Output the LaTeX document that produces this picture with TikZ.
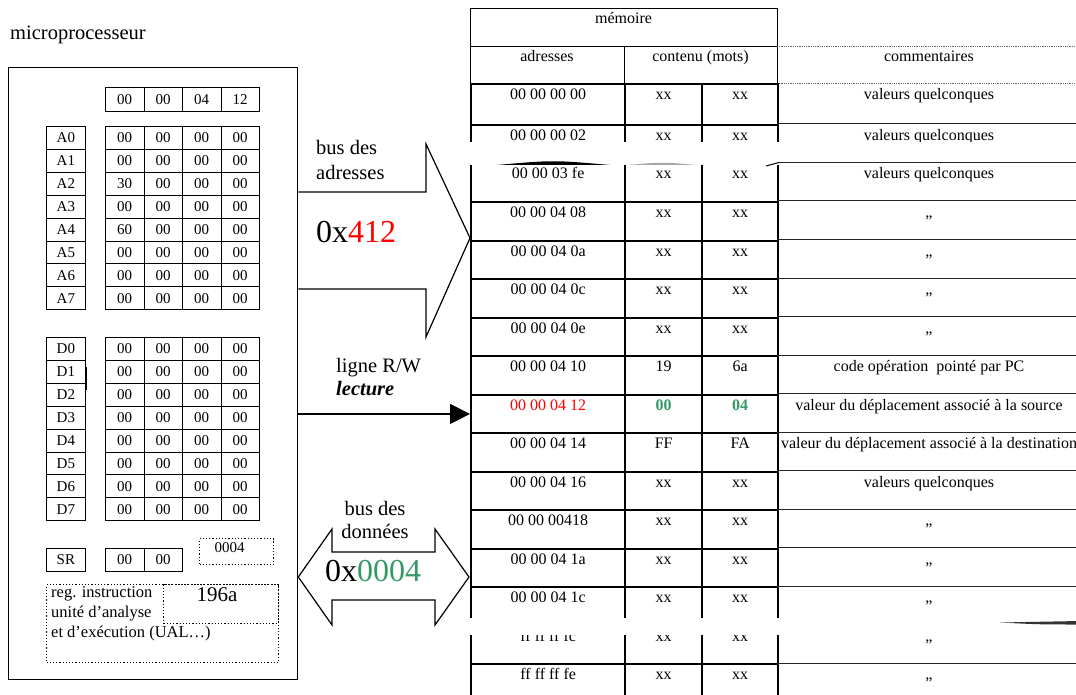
\documentclass[tikz,border=0pt]{standalone}
\usepackage{fontspec}
\setmainfont{Liberation Serif}
\usetikzlibrary{arrows.meta,positioning}
\definecolor{adrred}{RGB}{255,0,0}
\definecolor{datgreen}{RGB}{51,153,102}

\begin{document}
\begin{tikzpicture}[
      x=1pt, y=-1pt,
      font=\fontsize{15}{17}\selectfont,
      reg/.style={draw, line width=0.8pt, minimum width=38.5pt, minimum height=22.9pt, inner sep=0pt, anchor=north west},
      reglab/.style={reg, minimum width=39pt},
      dotbox/.style={draw, line width=1.2pt, dotted, inner sep=0pt, anchor=north west},
      mcell/.style={draw, line width=2.4pt, inner sep=0pt, anchor=north west},
      mhead/.style={draw, line width=0.8pt},
      comline/.style={line width=1pt, black!85},
      mtxt/.style={anchor=base, inner sep=0pt, font=\fontsize{16}{18}\selectfont},
      lbl/.style={anchor=base west, inner sep=0pt, font=\fontsize{20.5}{24}\selectfont},
      big/.style={anchor=base west, inner sep=0pt, font=\fontsize{32}{36}\selectfont},
      bus/.style={line width=1.2pt, line join=miter}
    ]
    \useasboundingbox (0,0) rectangle (1076,695);

    % microprocesseur
    \node[lbl] (cputitle) at (10,40) {microprocesseur};
    \node[draw, line width=1.3pt, minimum width=289pt, minimum height=612pt, inner sep=0pt, anchor=north west] (cpu) at (8,67) {};

    \foreach \v [count=\j from 0] in {00,00,04,12}
      \node[reg, minimum height=24pt] (pc\j) at ({105+38.5*\j},87) {\v};

    \foreach \v [count=\i from 0] in {00,00,30,00,60,00,00,00} {
      \node[reglab] (a\i) at (46,{126+22.9*\i}) {A\i};
      \node[reg] (av\i-0) at (105,{126+22.9*\i}) {\v};
      \foreach \j in {1,2,3}
        \node[reg] (av\i-\j) at ({105+38.5*\j},{126+22.9*\i}) {00};
    }

    \foreach \i in {0,...,7} {
      \node[reglab] (d\i) at (46,{337+22.9*\i}) {D\i};
      \foreach \j in {0,...,3}
        \node[reg] (dv\i-\j) at ({105+38.5*\j},{337+22.9*\i}) {00};
    }
    \draw[line width=1.2pt] (86,367) -- (86,390);

    \node[reglab, minimum height=23pt] (sr) at (46,548) {SR};
    \node[reg, minimum height=23pt] (sr0) at (105,548) {00};
    \node[reg, minimum height=23pt] (sr1) at (143.5,548) {00};
    \node[dotbox, minimum width=74pt, minimum height=26pt, text depth=8pt] (ccr) at (199,538) {0004\kern14pt};

    \node[dotbox, minimum width=232pt, minimum height=78pt] (ual) at (46,584) {};
    \node[dotbox, minimum width=115pt, minimum height=39pt, text depth=19pt, font=\fontsize{21}{24}\selectfont] (ir) at (163,584) {196a\kern8pt};
    \node[anchor=north west, align=left, inner sep=0pt, font=\fontsize{16.5}{20}\selectfont] (ualtxt) at (51,586.5)
      {reg. instruction\\unité d’analyse\\et d’exécution (UAL…)};

    % memoire
    \draw[mhead] (470,8) rectangle (777,46);
    \draw[mhead] (470,46) rectangle (624,83);
    \draw[mhead] (624,46) rectangle (777,83);
    \draw[black!60, densely dotted, line width=0.8pt] (777,46) -- (1076,46) (777,83) -- (1076,83);
    \node[mtxt] (memtitle) at (623.5,24) {mémoire};
    \node[mtxt] (hadr) at (547,62) {adresses};
    \node[mtxt] (hcont) at (700.5,62) {contenu (mots)};
    \node[mtxt] (hcom) at (929,62) {commentaires};

    \foreach \adr/\ca/\cb/\com [count=\i from 0] in {
        00 00 00 00/xx/xx/valeurs quelconques,
        00 00 00 02/xx/xx/valeurs quelconques,
        00 00 03 fe/xx/xx/valeurs quelconques,
        00 00 04 08/xx/xx/„,
        00 00 04 0a/xx/xx/„,
        00 00 04 0c/xx/xx/„,
        00 00 04 0e/xx/xx/„,
        00 00 04 10/19/6a/code opération\ \ pointé par PC,
        {\textcolor{adrred}{00 00 04 12}}/{\textbf{\textcolor{datgreen}{00}}}/{\textbf{\textcolor{datgreen}{04}}}/valeur du déplacement associé à la source,
        00 00 04 14/FF/FA/valeur du déplacement associé à la destination,
        00 00 04 16/xx/xx/valeurs quelconques,
        00 00 00418/xx/xx/„,
        00 00 04 1a/xx/xx/„,
        00 00 04 1c/xx/xx/„,
        ff ff ff fc/xx/xx/„,
        ff ff ff fe/xx/xx/„} {
      \pgfmathsetmacro\ytop{\i==0 ? 83 : 124+38.5*(\i-1)}
      \pgfmathsetmacro\hgt{\i==0 ? 41 : 38.5}
      \node[mcell, minimum width=154pt, minimum height=\hgt pt] (m\i a) at (470,\ytop) {};
      \node[mcell, minimum width=77pt, minimum height=\hgt pt] (m\i b) at (624,\ytop) {};
      \node[mcell, minimum width=76pt, minimum height=\hgt pt] (m\i c) at (701,\ytop) {};
      \ifnum\i>0 \draw[comline] (777,\ytop) -- (1076,\ytop); \fi
      \node[mtxt, yshift=-16.5pt] (t\i a) at (m\i a.north) {\adr};
      \node[mtxt, yshift=-16.5pt] (t\i b) at (m\i b.north) {\ca};
      \node[mtxt, yshift=-16.5pt] (t\i c) at (m\i c.north) {\cb};
      \node[mtxt, yshift=-16.5pt] (t\i d) at (929,\ytop) {\com};
    }

    % coupures
    \fill[white] (464,142.5) rectangle (1080,161);
    \fill[white] (464,147) rectangle (779,165.5);
    \fill (497,165) .. controls (553,160) .. (610,165) .. controls (553,165) .. (497,165) -- cycle;
    \fill[black!35] (628,165) .. controls (662,162) .. (697,165) .. controls (662,164.5) .. (628,165) -- cycle;
    \draw[line width=1pt] (766,166) .. controls (773,163.5) .. (779,162.5);
    \fill[white] (464,618) rectangle (1080,635);
    \fill[black!80] (1000,622.5) .. controls (1040,621) .. (1080,621) -- (1080,624.5) .. controls (1040,624.5) .. (1000,622.5) -- cycle;

    % bus
    \draw[bus] (cpu.east |- 0,192) -- (426,192) -- (426,144) -- (470,238) -- (426,337) -- (426,289) -- (cpu.east |- 0,289);
    \node[lbl] (badr1) at (316,155) {bus des};
    \node[lbl] (badr2) at (316,180) {adresses};
    \node[big] (vadr) at (316,242) {0x\textcolor{adrred}{412}};

    \draw[-{Triangle[length=20pt,width=20pt]}, line width=1.2pt] (cpu.east |- m8a.west) -- (m8a.west);
    \node[lbl] (rw1) at (336,372) {ligne R/W};
    \node[lbl] (rw2) at (336,395) {\textbf{\textit{lecture}}};

    \draw[bus] (cpu.east |- 0,577) -- (332,529) -- (332,552) -- (435,552) -- (435,529) -- (469,577)
      -- (435,625) -- (435,600) -- (332,600) -- (332,625) -- cycle;
    \node[lbl, anchor=base] (bdat1) at (375,515) {bus des};
    \node[lbl, anchor=base] (bdat2) at (375,538) {données};
    \node[big] (vdat) at (325,581) {0x\textcolor{datgreen}{0004}};
  \end{tikzpicture}
\end{document}
